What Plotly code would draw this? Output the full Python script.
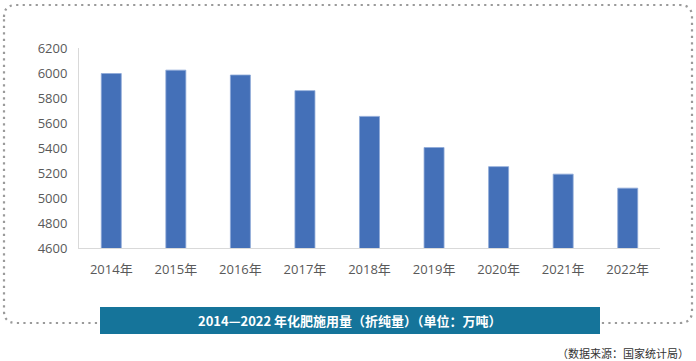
import plotly.graph_objects as go

years = ["2014年", "2015年", "2016年", "2017年", "2018年", "2019年", "2020年", "2021年", "2022年"]
values = [5996, 6023, 5984, 5859, 5653, 5404, 5251, 5191, 5079]
y_ticks = [4600, 4800, 5000, 5200, 5400, 5600, 5800, 6000, 6200]
title_text = "2014—2022 年化肥施用量（折纯量）（单位：万吨）"
source_text = "（数据来源：国家统计局）"

W, H = 696, 361
L, R, T, B = 79, 36, 48, 113
pw, ph = W - L - R, H - T - B


def px(x):
    return (x - L) / pw


def py(y):
    return (H - B - y) / ph


fig = go.Figure()
fig.add_trace(go.Bar(
    x=years, y=values, width=0.31,
    marker=dict(color="#4470B8", line=dict(color="#8EA9D8", width=0.8)),
))

# dotted rounded border
x0, x1, y0, y1, r = 4, 692, 5, 323, 12
path = (f"M {px(x0)},{py(y0 + r)} Q {px(x0)},{py(y0)} {px(x0 + r)},{py(y0)} "
        f"L {px(x1 - r)},{py(y0)} Q {px(x1)},{py(y0)} {px(x1)},{py(y0 + r)} "
        f"L {px(x1)},{py(y1 - r)} Q {px(x1)},{py(y1)} {px(x1 - r)},{py(y1)} "
        f"L {px(x0 + r)},{py(y1)} Q {px(x0)},{py(y1)} {px(x0)},{py(y1 - r)} Z")
shapes = [
    dict(type="path", xref="paper", yref="paper", path=path,
         line=dict(color="#9A9A9A", width=2.2, dash="2.2px,4.3px"), layer="below"),
    dict(type="rect", xref="paper", yref="paper",
         x0=px(100), x1=px(600), y0=py(334), y1=py(307),
         fillcolor="#15749A", line=dict(width=0)),
]

annotations = [
    dict(text=f"<b>{title_text}</b>", xref="paper", yref="paper",
         x=px(350), y=py(320.5), xanchor="center", yanchor="middle",
         showarrow=False, font=dict(family="Noto Sans CJK SC", size=13, color="white")),
    dict(text=source_text, xref="paper", yref="paper",
         x=px(691), y=py(352.5), xanchor="right", yanchor="middle",
         showarrow=False, font=dict(family="Noto Sans CJK SC", size=11, color="#333333")),
]

fig.update_layout(
    width=W, height=H,
    margin=dict(l=L, r=R, t=T, b=B),
    paper_bgcolor="white", plot_bgcolor="white",
    showlegend=False,
    shapes=shapes, annotations=annotations,
    xaxis=dict(showline=True, linecolor="#D9D9D9", linewidth=1, ticks="",
               tickfont=dict(family="Open Sans, Noto Sans CJK SC", size=13, color="#595959"),
               ticklabelstandoff=9, fixedrange=True),
    yaxis=dict(range=[4600, 6200], tickvals=y_ticks, showgrid=False, zeroline=False,
               showline=True, linecolor="#D9D9D9", linewidth=1, ticks="",
               tickfont=dict(family="Open Sans", size=13, color="#595959"),
               ticklabelstandoff=8, fixedrange=True),
)

fig.write_html("out.html", config={"displayModeBar": False},
               post_script="document.body.style.margin='0';document.body.style.overflow='hidden';")
